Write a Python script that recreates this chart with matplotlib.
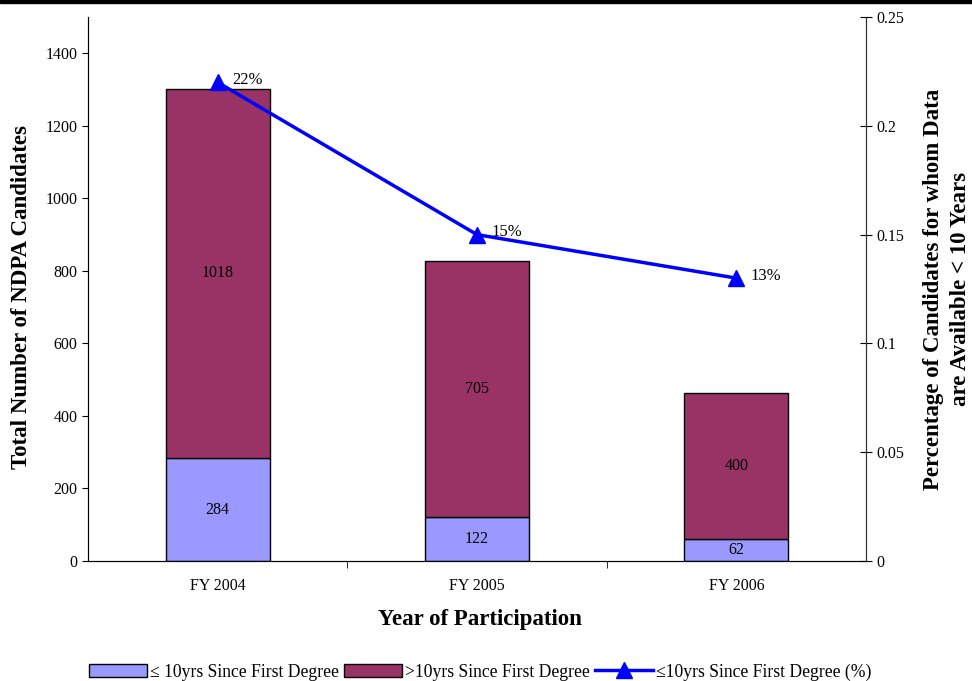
import numpy as np
import matplotlib
matplotlib.use("Agg")
import matplotlib.pyplot as plt
from matplotlib.lines import Line2D
from matplotlib.patches import Patch

plt.rcParams['font.family'] = ['Liberation Serif', 'DejaVu Serif']

years = ["FY 2004", "FY 2005", "FY 2006"]
le10 = [284, 122, 62]
gt10 = [1018, 705, 400]
pct = [0.22, 0.15, 0.13]
pct_labels = ["22%", "15%", "13%"]

c_le = "#9999FF"
c_gt = "#993366"

fig = plt.figure(figsize=(9.72, 6.81), dpi=100)
ax = fig.add_axes([0.0905, 0.1762, 0.8005, 0.7988])
x = np.arange(len(years))

ax.bar(x, le10, width=0.4, color=c_le, edgecolor="black", linewidth=1)
ax.bar(x, gt10, width=0.4, bottom=le10, color=c_gt, edgecolor="black", linewidth=1)
for i in range(len(years)):
    ax.text(x[i], le10[i] / 2, str(le10[i]), ha="center", va="center", fontsize=11.5)
    ax.text(x[i], le10[i] + gt10[i] / 2, str(gt10[i]), ha="center", va="center", fontsize=11.5)

ax.set_xlim(-0.5, 2.5)
ax.set_ylim(0, 1500)
ax.set_yticks(range(0, 1401, 200))
ax.set_xticks(x)
ax.set_xticklabels(years, fontsize=11.5)
ax.set_xticks([0.5, 1.5], minor=True)
ax.tick_params(axis="x", which="major", length=0, pad=12)
ax.tick_params(axis="x", which="minor", length=5, direction="out")
ax.tick_params(axis="y", labelsize=11.5, length=4, direction="out")
ax.spines["top"].set_visible(False)
for s in ["left", "bottom", "right"]:
    ax.spines[s].set_color("#333333")

ax2 = ax.twinx()
ax2.plot(x, pct, color="#0000FF", linewidth=2.5, marker="^", markersize=12)
for i in range(len(years)):
    ax2.text(x[i] + 0.055, pct[i] + 0.001, pct_labels[i], ha="left", va="center", fontsize=12)
ax2.set_ylim(0, 0.25)
ax2.set_yticks([0, 0.05, 0.1, 0.15, 0.2, 0.25])
ax2.set_yticklabels(["0", "0.05", "0.1", "0.15", "0.2", "0.25"])
ax2.tick_params(axis="y", labelsize=11.5, length=8, direction="inout")
ax2.spines["top"].set_visible(False)
ax2.spines["right"].set_color("#333333")

fig.text(22 / 972, 1 - 297 / 681, "Total Number of NDPA Candidates", rotation=90,
         ha="center", va="center", fontsize=16.5, fontweight="bold")
fig.text(947 / 972, 1 - 289 / 681, "Percentage of Candidates for whom Data\nare Available < 10 Years",
         rotation=90, ha="center", va="center", fontsize=16.5, fontweight="bold",
         linespacing=1.4, multialignment="center")
fig.text(480 / 972, 1 - 620 / 681, "Year of Participation", ha="center", va="center",
         fontsize=16.5, fontweight="bold")

handles = [Patch(facecolor=c_le, edgecolor="black"),
           Patch(facecolor=c_gt, edgecolor="black"),
           Line2D([0], [0], color="#0000FF", linewidth=2.5, marker="^", markersize=11)]
labels = ["≤ 10yrs Since First Degree", ">10yrs Since First Degree", "≤10yrs Since First Degree (%)"]
fig.legend(handles, labels, loc="center", bbox_to_anchor=(480 / 972, 1 - 672 / 681), ncol=3,
           frameon=False, fontsize=12.7, handlelength=3.3, handleheight=0.8,
           columnspacing=0.3, handletextpad=0.15, borderpad=0)

fig.patches.append(plt.Rectangle((0, 0.995), 1, 0.005, transform=fig.transFigure,
                                 color="black", zorder=10))

fig.savefig("out.png", dpi=100)
